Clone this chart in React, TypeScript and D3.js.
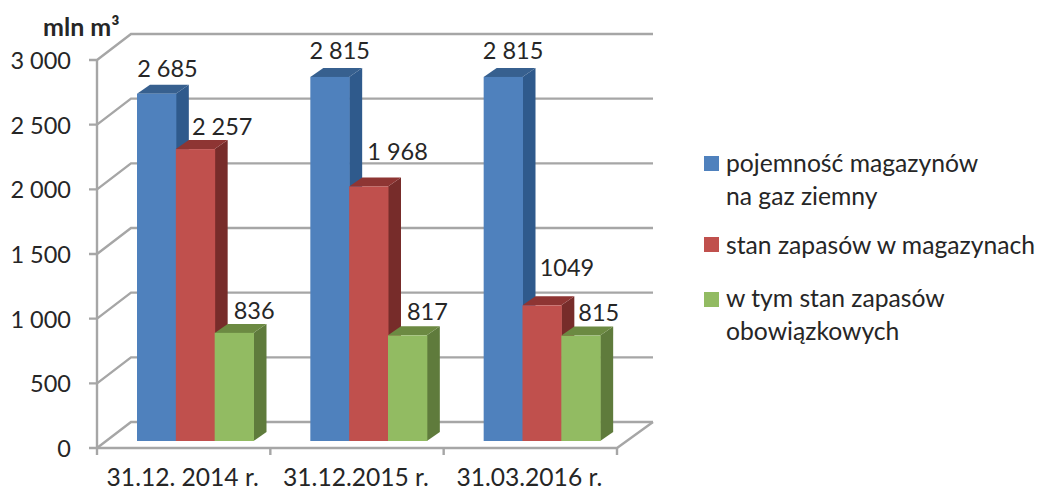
import React from "react";
import * as d3 from "d3";

const categories = ["31.12. 2014 r.", "31.12.2015 r.", "31.03.2016 r."];
const seriesNames = ["pojemność", "stan", "obowiązkowe"];
const pojemnosc = [2685, 2815, 2815];
const stan = [2257, 1968, 1049];
const obowiazkowe = [836, 817, 815];
const valueLabels = [
  ["2 685", "2 815", "2 815"],
  ["2 257", "1 968", "1049"],
  ["836", "817", "815"],
];
const yTicks = [0, 500, 1000, 1500, 2000, 2500, 3000];
const yTickLabels = ["0", "500", "1 000", "1 500", "2 000", "2 500", "3 000"];
const legendLines = [
  ["pojemność magazynów", "na gaz ziemny"],
  ["stan zapasów w magazynach"],
  ["w tym stan zapasów", "obowiązkowych"],
];

const font = "Lato, 'Open Sans', sans-serif";
const textColor = "#262626";
const gridColor = "#a6a6a6";

const faces = [
  { front: "#4f81bd", side: "#2f5a8c", top: "#37608f" },
  { front: "#c0504d", side: "#772c2a", top: "#8e3533" },
  { front: "#92bb62", side: "#5f7b3c", top: "#6c8a42" },
];

// plot box of the pseudo 3d chart
const x0 = 97;
const x1 = 617;
const yBottom = 448;
const yTop = 60;
const wallDx = 34;
const wallDy = -26;
const barBase = 441; // bars stand a bit in front of the wall
const barDx = 13;
const barDy = -9;

const App = () => {
  const series = [pojemnosc, stan, obowiazkowe];

  const y = d3.scaleLinear().domain([0, 3000]).range([yBottom, yTop]);
  const h = d3.scaleLinear().domain([0, 3000]).range([0, yBottom - yTop]);
  const xBand = d3.scaleBand().domain(categories).range([x0, x1]);
  const inner = d3
    .scaleBand()
    .domain(seriesNames)
    .range([0, 116.5])
    .padding(0);
  const groupOffset = 40;

  // manual label nudges, the source places each one by hand
  const labelDx = [
    [11, 10, 10],
    [27, 29, 25],
    [20, 20, 18],
  ];
  const labelDy = [
    [-8, -9, -9],
    [-5, -17, -20],
    [-5, -6, -6],
  ];

  const tickXs = [...categories.map((c) => xBand(c)), x1];

  return (
    <svg
      width={1038}
      height={491}
      style={{ position: "absolute", left: 0, top: 0, background: "#fff" }}
      fontFamily={font}
    >
      {/* walls and gridlines */}
      <g fill="none" stroke={gridColor} strokeWidth={2.4}>
        {yTicks.map((t) => (
          <path
            key={t}
            d={`M${x0 - 8},${y(t)}H${x0}L${x0 + wallDx},${y(t) + wallDy}H${x0 + wallDx + x1 - x0 + 2}`}
          />
        ))}
        <path d={`M${x0},${yTop}V${yBottom}`} />
        <path d={`M${x0},${yBottom}H${x1}L${x1 + wallDx + 2},${yBottom + wallDy}`} />
        {tickXs.map((tx) => (
          <path key={tx} d={`M${tx},${yBottom}V${yBottom + 7}`} />
        ))}
      </g>

      {/* bars */}
      {categories.map((c, ci) =>
        seriesNames.map((s, si) => {
          const bx = xBand(c)! + groupOffset + inner(s)!;
          const w = inner.bandwidth();
          const topY = barBase - h(series[si][ci]);
          const f = faces[si];
          return (
            <g key={c + s}>
              <path
                d={`M${bx + w},${barBase}V${topY}l${barDx},${barDy}V${barBase + barDy}Z`}
                fill={f.side}
              />
              <path
                d={`M${bx},${topY}H${bx + w}l${barDx},${barDy}H${bx + barDx}Z`}
                fill={f.top}
              />
              <rect x={bx} y={topY} width={w + 0.5} height={barBase - topY} fill={f.front} />
            </g>
          );
        })
      )}

      {/* value labels */}
      {categories.map((c, ci) =>
        seriesNames.map((s, si) => {
          const bx = xBand(c)! + groupOffset + inner(s)!;
          const w = inner.bandwidth();
          const topY = barBase - h(series[si][ci]) + barDy;
          return (
            <text
              key={c + s}
              x={bx + w / 2 + labelDx[si][ci]}
              y={topY + labelDy[si][ci]}
              textAnchor="middle"
              fontSize={23.5}
              fill={textColor}
            >
              {valueLabels[si][ci]}
            </text>
          );
        })
      )}

      {/* y axis labels */}
      {yTicks.map((t, i) => (
        <text
          key={t}
          x={71}
          y={y(t) + 9}
          textAnchor="end"
          fontSize={23.5}
          fill={textColor}
        >
          {yTickLabels[i]}
        </text>
      ))}
      <text x={43} y={36} fontSize={25} fontWeight={700} fill={textColor}>
        mln m³
      </text>

      {/* x axis labels */}
      {categories.map((c) => (
        <text
          key={c}
          x={xBand(c)! + xBand.bandwidth() / 2 - 1}
          y={485.5}
          textAnchor="middle"
          fontSize={24.6}
          fill={textColor}
        >
          {c}
        </text>
      ))}

      {/* legend */}
      {legendLines.map((lines, i) => {
        const squareY = [156, 237, 292][i];
        const baselines = [
          [172, 205],
          [254],
          [307, 340],
        ][i];
        return (
          <g key={i}>
            <rect x={704} y={squareY} width={15} height={15} fill={faces[i].front} />
            {lines.map((l, j) => (
              <text key={l} x={726} y={baselines[j]} fontSize={24.7} fill={textColor}>
                {l}
              </text>
            ))}
          </g>
        );
      })}
    </svg>
  );
};

export default App;
